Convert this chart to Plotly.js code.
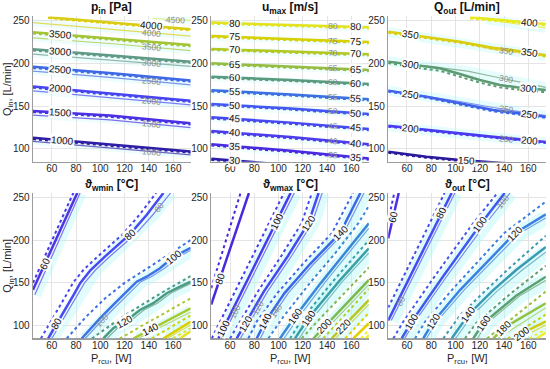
<!DOCTYPE html>
<html><head><meta charset="utf-8">
<script src="https://cdn.plot.ly/plotly-3.0.1.min.js"></script>
<style>html,body{margin:0;padding:0;background:#fff}#chart{width:550px;height:369px}</style>
</head><body><div id="chart"></div>
<script>
// ---------- Panel 1: p_in [Pa] ----------
const pinLevels = [1000, 1500, 2000, 2500, 3000, 3500, 4000];
const pinSolidX = [[44.5, 80, 110, 140, 174.5], [44.5, 108, 174.5], [44.5, 110, 174.5], [44.5, 110, 174.5], [44.5, 110, 174.5], [44.5, 110, 174.5], [57, 110, 174.5]];
const pinSolidY = [[113, 108.5, 105, 101, 97], [144.5, 139, 130], [173, 165, 156.5], [196, 188.5, 180], [216.6, 209.5, 202], [236.4, 229, 221.6], [254, 248, 240]];
const pinDotX = [[44.5, 80, 110, 140, 174.5], [44.5, 108, 174.5], [44.5, 110, 174.5], [44.5, 110, 174.5], [44.5, 110, 174.5], [44.5, 110, 174.5], [57, 110, 174.5]];
const pinDotY = [[111.5, 107, 103.5, 99.5, 95.5], [143, 137.5, 128.5], [171.5, 163.5, 155], [194.5, 187, 178.5], [215, 208, 200.5], [235, 227.5, 220], [253, 246.5, 238.5]];
const pinThinLevels = [1000, 1500, 2000, 2500, 3000, 3500, 4000, 4500];
const pinThinX = [[44.5, 80, 110, 140, 174.5], [44.5, 108, 174.5], [44.5, 110, 174.5], [44.5, 110, 174.5], [44.5, 110, 174.5], [44.5, 110, 174.5], [44.5, 110, 174.5], [143, 174.5]];
const pinThinY = [[109, 104.5, 101, 97, 93], [139.5, 134, 125], [168, 160, 151.5], [191, 183.5, 175], [211, 204, 196.5], [230, 223, 215], [247.7, 240, 232], [252.5, 250.5]];
const pinLabels = [[1000, 69], [1500, 67], [2000, 67], [2500, 67], [3000, 67], [3500, 67], [4000, 142]];
const pinGrayLabels = [[1000, 142], [1500, 142], [2000, 142], [2500, 142], [3000, 142], [3500, 142], [4000, 142], [4500, 161.6]];

// ---------- Panel 2: u_max [m/s] ----------
const umaxLevels = [30, 35, 40, 45, 50, 55, 60, 65, 70, 75, 80];
const umaxSolidX = [[44.5, 80, 120], [44.5, 110, 174.5], [44.5, 110, 174.5], [44.5, 110, 174.5], [44.5, 110, 174.5], [44.5, 110, 174.5], [44.5, 110, 174.5], [44.5, 110, 174.5], [44.5, 110, 174.5], [44.5, 110, 174.5], [44.5, 110, 174.5]];
const umaxSolidY = [[88.5, 84.5, 80], [105.5, 98, 89], [121, 114, 105.5], [137, 130.8, 123.4], [152.6, 147.3, 141], [168.6, 163.8, 158], [184.5, 180.7, 176], [200.2, 196.6, 192.4], [217, 214, 210.7], [232, 228.8, 225], [247.7, 245.3, 242.3]];
const umaxDotX = umaxSolidX;
const umaxDotY = [[87, 83, 78.5], [104, 96.5, 87.5], [119.5, 112.5, 104], [135.5, 129.3, 122], [151.2, 146, 139.6], [167.2, 162.4, 156.6], [183.2, 179.4, 174.6], [198.9, 195.3, 191], [215.7, 212.7, 209.3], [230.7, 227.5, 223.6], [246.4, 244, 240.9]];
const umaxThinLevels = [];
const umaxThinX = [];
const umaxThinY = [];
const umaxLabels = [[30, 64.1], [35, 64.1], [40, 64.1], [45, 64.1], [50, 64.1], [55, 64.1], [60, 64.1], [65, 64.1], [70, 64.1], [75, 64.1], [80, 64.1],
  [35, 164], [40, 164], [45, 164], [50, 164], [55, 164], [60, 164], [65, 164], [70, 164], [75, 164], [80, 164]];
const umaxGrayLabels = [[35, 144.5], [40, 144.5], [45, 144.5], [50, 144.5], [55, 144.5], [60, 144.5], [65, 144.5], [70, 144.5], [75, 144.5], [80, 144.5]];

// ---------- Panel 3: Q_out [L/min] ----------
const qoutLevels = [150, 200, 250, 300, 350, 400];
const qoutSolidX = [[44.5, 76.1, 103.6, 131, 145], [44.5, 76.1, 103.6, 131, 174.5], [44.5, 76.1, 103.6, 131, 142, 158.4, 174.5], [44.5, 65.1, 87.1, 103.6, 120.1, 136.6, 150.4, 174.5], [44.5, 76.1, 103.6, 131, 150.4, 174.5], [112, 140, 174.5]];
const qoutSolidY = [[96.8, 90.9, 87.1, 84.4, 83], [127.2, 122.2, 118.3, 114.4, 108.3], [168.2, 161.1, 153.4, 145.6, 143.6, 140.9, 137.6], [202.1, 197.9, 194.3, 187.7, 180.7, 174.8, 172.1, 169], [237.2, 230.6, 225.5, 218.4, 214.9, 209.6], [254, 250.5, 246]];
const qoutDotX = qoutSolidX;
const qoutDotY = [[95.5, 89.7, 86, 83.3, 82], [126, 121, 117, 113.2, 107], [167, 160, 152, 144, 142, 139.5, 136.5], [200.5, 195.5, 191.5, 184.5, 177.5, 172, 169.5, 166.5], [235.7, 229, 224, 217, 213.4, 208], [252.5, 249, 244.5]];
const qoutThinLevels = [200, 250, 300, 350, 400];
const qoutThinX = [[44.5, 103.6, 131, 150, 174.5], [44.5, 103.6, 131, 150, 174.5], [44.5, 87.1, 110, 130, 150, 174.5], [44.5, 103.6, 131, 150, 174.5], [125, 174.5]];
const qoutThinY = [[126.5, 117.5, 113.2, 110.5, 107.5], [168.5, 155.5, 148.5, 144.5, 139], [202.5, 195.5, 191, 185, 179.5, 172], [236.5, 224.5, 216.5, 213, 208.5], [251.5, 241.5]];
const qoutLabels = [[150, 109.2], [200, 62.5], [200, 161], [250, 62.5], [250, 161], [300, 62.5], [300, 160], [350, 62.5], [350, 161], [400, 161.4]];
const qoutGrayLabels = [[200, 142], [250, 142], [300, 142], [350, 142]];

// ---------- Panel 4: theta_wmin [°C] ----------
const wminLevels = [60, 80, 100, 120, 140, 160, 180];
const wminSolidX = [[44.5, 81], [57, 64, 72, 78, 83.5, 92, 104, 124.5, 138, 152], [84.6, 99.7, 112.1, 121.7, 130, 138.2, 149.2, 160, 174.5], [102.5, 110.7, 120.3, 132.7, 143.7, 154.7, 165.7, 174.5], [127.2, 141, 174.5], [151.9, 174.5], [165.7, 174.5]];
const wminSolidY = [[142, 255], [85, 102, 120, 136, 150, 165, 181, 207, 229, 255], [85, 108.6, 126.2, 139.7, 151.4, 157.2, 167, 180, 191], [85, 97, 104.7, 118.3, 126.2, 137.9, 145.6, 151.4], [85, 95.3, 120.3], [85, 104.7], [85, 93.5]];
const wminDotX = [[44.5, 77.7], [51, 58, 66, 72, 77.5, 86, 98, 118.5, 132, 146], [72.3, 88, 104, 120, 140, 160, 174.5], [93, 120, 150, 174.5], [116, 174.5], [142.4, 174.5], [160, 174.5]];
const wminDotY = [[150, 255], [85, 102, 120, 136, 150, 165, 181, 207, 229, 255], [85, 110, 132, 150, 168, 186, 200], [85, 112, 138, 158], [85, 132], [85, 112], [85, 97]];
const wminThinLevels = [60, 80, 100, 120, 140, 160];
const wminThinX = [[46, 83.3], [60, 67, 75, 81.5, 87, 96, 108, 129, 143, 158], [87.5, 103, 115.5, 125, 133.5, 142, 153, 164, 174.5], [105.5, 114, 124, 136, 147, 158, 169, 174.5], [131, 174.5], [155, 174.5]];
const wminThinY = [[136, 255], [85, 102, 120, 136, 150, 165, 181, 207, 229, 255], [85, 108.6, 126.2, 139.7, 151.4, 157.2, 167, 180, 188], [85, 97, 104.7, 118.3, 126.2, 137.9, 145.6, 149], [85, 116], [85, 101]];
const wminLabels = [[60, 54.4], [80, 64], [80, 124.5], [100, 160], [120, 120.3], [140, 141]];
const wminGrayLabels = [[80, 148.6], [100, 101]];

// ---------- Panel 5: theta_wmax [°C] ----------
const wmaxLevels = [80, 100, 120, 140, 160, 180, 200, 220, 240, 260];
const wmaxSolidX = [[44.5, 75.6], [50.4, 110], [65.5, 88, 108, 124.6, 133], [82, 89, 105, 126, 150.7, 167.5], [101.2, 113.6, 135, 155, 174.5], [113.6, 124.6, 150, 174.5], [128.7, 138.3, 174.5], [143.8, 153.4, 174.5], [161.7, 174.5], [172, 174.5]];
const wmaxSolidY = [[124.5, 255], [85, 255], [85, 140, 182, 219.6, 255], [85, 104.7, 138, 172, 208, 255], [85, 110.5, 150, 185, 219.6], [85, 108.6, 152, 190.4], [85, 99.6, 153.4], [85, 99, 130], [85, 102.8], [85, 89]];
const wmaxDotX = [[44.5, 68.7], [44.9, 104.5], [60, 83, 102.5, 119, 127.5], [75.1, 82, 99, 120, 144, 161.5], [91.6, 104, 126, 147, 166, 174.5], [109.5, 120, 145, 174.5], [119.1, 130, 174.5], [136.9, 174.5], [155, 174.5], [168, 174.5]];
const wmaxDotY = [[143.7, 255], [85, 255], [85, 140, 182, 219.6, 255], [85, 104.7, 138, 172, 208, 255], [85, 110.5, 150, 185, 220, 240], [85, 108.6, 152, 200], [85, 102, 168], [85, 143], [85, 115], [85, 95]];
const wmaxThinLevels = [100, 120, 140, 160, 180, 200, 220];
const wmaxThinX = [[53, 113], [68.5, 91, 111, 127.6, 136], [85, 92, 108, 129, 153.7, 170.5], [104.5, 117, 138, 158, 174.5], [117, 128, 153, 174.5], [132, 142, 174.5], [147, 157, 174.5]];
const wmaxThinY = [[85, 255], [85, 140, 182, 219.6, 255], [85, 104.7, 138, 172, 208, 255], [85, 110.5, 150, 185, 214], [85, 108.6, 152, 185], [85, 99.6, 148], [85, 99, 125]];
const wmaxLabels = [[80, 51.8], [100, 54.5], [100, 98.5], [120, 72.4], [120, 124.6], [140, 89], [140, 150.7], [160, 113.6], [180, 124.6], [200, 138.3], [220, 153.4]];
const wmaxGrayLabels = [[100, 64], [120, 83], [140, 98]];

// ---------- Panel 6: theta_out [°C] ----------
const outLevels = [60, 80, 100, 120, 140, 160, 180, 200, 220];
const outSolidX = [[44.5, 53.2], [44.5, 96.8], [55.6, 63.9, 90, 120.2, 140.5], [73.4, 81.7, 103.7, 149, 174.5], [96.8, 110.5, 130, 150, 174.5], [114.6, 122.9, 150, 174.5], [131.2, 139.4, 174.5], [149, 154.6, 174.5], [166.9, 174.5]];
const outSolidY = [[202, 255], [106, 255], [85, 104.7, 158, 217.6, 255], [85, 104.7, 141.6, 208, 230], [85, 112.5, 140, 165, 192], [85, 102.8, 135, 157.2], [85, 97, 126.2], [85, 91, 105], [85, 92]];
const outDotX = [[44.5, 49.5], [44.5, 91], [48.7, 57, 83, 113.5, 134.5], [66.6, 75, 97, 140, 174.5], [89.9, 104, 124, 145, 174.5], [107.8, 117, 145, 174.5], [126, 174.5], [143, 174.5], [161, 174.5]];
const outDotY = [[222, 255], [121, 255], [85, 104.7, 158, 217.6, 255], [85, 104.7, 141.6, 208, 245], [85, 112.5, 140, 168, 205], [85, 102.8, 137, 170], [85, 140], [85, 113], [85, 96]];
const outThinLevels = [80, 100, 120, 140, 160, 180, 200];
const outThinX = [[47, 99.5], [58, 66.5, 93, 124, 145], [76, 84.5, 107, 153, 174.5], [100, 114, 134, 155, 174.5], [118, 126, 153, 174.5], [135, 174.5], [153, 174.5]];
const outThinY = [[106, 255], [85, 104.7, 158, 217.6, 255], [85, 104.7, 141.6, 208, 226], [85, 112.5, 140, 165, 186], [85, 102.8, 135, 153], [85, 121], [85, 101]];
const outLabels = [[60, 48.7], [80, 88.6], [100, 63.9], [100, 120.2], [120, 81.7], [120, 149], [140, 110.5], [160, 122.9], [180, 139.4], [200, 154.6]];
const outGrayLabels = [[80, 55], [100, 139]];

// ---------- axis ticks / titles ----------
const xTicks = [60, 80, 100, 120, 140, 160];
const yTicks = [100, 150, 200, 250];
const panelTitles = ['<b>p<sub>in</sub> [Pa]</b>', '<b>u<sub>max</sub> [m/s]</b>', '<b>Q<sub>out</sub> [L/min]</b>',
  '<b>\u03D1<sub>wmin</sub> [°C]</b>', '<b>\u03D1<sub>wmax</sub> [°C]</b>', '<b>\u03D1<sub>out</sub> [°C]</b>'];
const yTitle = 'Q<sub>in</sub>, [L/min]';
const xTitle = 'P<sub>rcu</sub>, [W]';

// ---------- styles ----------
const pinColors = {1000: '#2e1fa6', 1500: '#4b2fe4', 2000: '#4744f0', 2500: '#3f68e6', 3000: '#5f9a86', 3500: '#a2c435', 4000: '#d8cc14', 4500: '#e2e23a'};
const umaxColors = {30: '#2c1ca8', 35: '#4a2ae0', 40: '#4c3cec', 45: '#4848f0', 50: '#4258f0', 55: '#3c70e2', 60: '#5a9a7e', 65: '#96bc40', 70: '#b4c824', 75: '#d8d000', 80: '#e4e21c'};
const qoutColors = {150: '#2a1a9a', 200: '#4a3aef', 250: '#4062e8', 300: '#5c9a72', 350: '#dacc10', 400: '#e8e820'};
const wminColors = {60: '#5232e6', 80: '#4a48f0', 100: '#3c72e6', 120: '#4c9a82', 140: '#a8c830', 160: '#d8d000', 180: '#e8e020'};
const wmaxColors = {80: '#4a28e0', 100: '#4a38ec', 120: '#4848f0', 140: '#3c68e8', 160: '#3a86d8', 180: '#3aa0a8', 200: '#80b850', 220: '#b8c828', 240: '#e0d000', 260: '#f0f020'};
const outColors = {60: '#4a30e8', 80: '#4848f0', 100: '#4058ec', 120: '#3a80e0', 140: '#3a9ab4', 160: '#5aa070', 180: '#98c040', 200: '#d0cc10', 220: '#eeee30'};

const FONT = '"Liberation Sans", Arial, Helvetica, sans-serif';
const W = 550, H = 369;
const XR = [44.5, 174.5], YR = [85, 255];
const xDomains = [[0.06, 0.3467], [0.384, 0.6707], [0.7058, 0.9925]];
const yDomains = [[0.5615, 0.9556], [0.0827, 0.477]];

const panels = [
  {col: pinColors, lv: pinLevels, sx: pinSolidX, sy: pinSolidY, dx: pinDotX, dy: pinDotY, tl: pinThinLevels, tx: pinThinX, ty: pinThinY, lab: pinLabels, glab: pinGrayLabels, halo: 7, ha: 0.22},
  {col: umaxColors, lv: umaxLevels, sx: umaxSolidX, sy: umaxSolidY, dx: umaxDotX, dy: umaxDotY, tl: umaxThinLevels, tx: umaxThinX, ty: umaxThinY, lab: umaxLabels, glab: umaxGrayLabels, halo: 7, ha: 0.18},
  {col: qoutColors, lv: qoutLevels, sx: qoutSolidX, sy: qoutSolidY, dx: qoutDotX, dy: qoutDotY, tl: qoutThinLevels, tx: qoutThinX, ty: qoutThinY, lab: qoutLabels, glab: qoutGrayLabels, halo: 10, ha: 0.3},
  {col: wminColors, lv: wminLevels, sx: wminSolidX, sy: wminSolidY, dx: wminDotX, dy: wminDotY, tl: wminThinLevels, tx: wminThinX, ty: wminThinY, lab: wminLabels, glab: wminGrayLabels, halo: 13, ha: 0.38},
  {col: wmaxColors, lv: wmaxLevels, sx: wmaxSolidX, sy: wmaxSolidY, dx: wmaxDotX, dy: wmaxDotY, tl: wmaxThinLevels, tx: wmaxThinX, ty: wmaxThinY, lab: wmaxLabels, glab: wmaxGrayLabels, halo: 15, ha: 0.4},
  {col: outColors, lv: outLevels, sx: outSolidX, sy: outSolidY, dx: outDotX, dy: outDotY, tl: outThinLevels, tx: outThinX, ty: outThinY, lab: outLabels, glab: outGrayLabels, halo: 15, ha: 0.4}
];

function lighten(hex, t) {
  const n = parseInt(hex.slice(1), 16);
  const r = (n >> 16) & 255, g = (n >> 8) & 255, b = n & 255;
  const f = c => Math.round(c + (255 - c) * t);
  return 'rgb(' + f(r) + ',' + f(g) + ',' + f(b) + ')';
}
function interp(xs, ys, x) {
  for (let i = 0; i < xs.length - 1; i++) {
    if (x >= xs[i] && x <= xs[i + 1]) {
      const t = (x - xs[i]) / (xs[i + 1] - xs[i]);
      return {y: ys[i] + t * (ys[i + 1] - ys[i]), s: (ys[i + 1] - ys[i]) / (xs[i + 1] - xs[i])};
    }
  }
  const i = x < xs[0] ? 0 : xs.length - 2;
  const s = (ys[i + 1] - ys[i]) / (xs[i + 1] - xs[i]);
  return {y: ys[i] + (x - xs[i]) * s, s: s};
}

const traces = [];
const annotations = [];
const layout = {
  width: W, height: H, margin: {l: 0, r: 0, t: 0, b: 0},
  paper_bgcolor: '#ffffff', plot_bgcolor: '#ffffff', showlegend: false,
  font: {family: FONT, size: 10, color: '#262626'}
};

panels.forEach((p, k) => {
  const col = k % 3, row = Math.floor(k / 3);
  const sfx = k === 0 ? '' : String(k + 1);
  const xa = 'x' + sfx, ya = 'y' + sfx;
  const xd = xDomains[col], yd = yDomains[row];
  layout['xaxis' + sfx] = {
    domain: xd, range: XR, anchor: ya, tickvals: xTicks, ticktext: xTicks.map(String),
    showgrid: true, gridcolor: '#e4e4e4', gridwidth: 1, zeroline: false,
    showline: true, linecolor: '#9c9c9c', linewidth: 1.3, ticks: '', ticklabelstandoff: -3,
    tickfont: {family: FONT, size: 10, color: '#262626'}, fixedrange: true, layer: 'below traces'
  };
  layout['yaxis' + sfx] = {
    domain: yd, range: YR, anchor: xa, tickvals: yTicks, ticktext: yTicks.map(String),
    showgrid: true, gridcolor: '#e4e4e4', gridwidth: 1, zeroline: false,
    showline: true, linecolor: '#9c9c9c', linewidth: 1.3, ticks: '',
    tickfont: {family: FONT, size: 10, color: '#262626'}, fixedrange: true, layer: 'below traces'
  };
  const pxPerX = W * (xd[1] - xd[0]) / (XR[1] - XR[0]);
  const pxPerY = H * (yd[1] - yd[0]) / (YR[1] - YR[0]);

  // faint cyan halo bands around the secondary contours (as in the original rendering)
  const hx = p.tl.length ? p.tx : p.dx, hy = p.tl.length ? p.ty : p.dy;
  hx.forEach((xs, i) => {
    traces.push({type: 'scatter', mode: 'lines', xaxis: xa, yaxis: ya, x: xs, y: hy[i],
      line: {color: 'rgba(175,248,248,' + p.ha + ')', width: p.halo}, hoverinfo: 'skip'});
  });
  // thin lines (second data set)
  p.tl.forEach((lev, i) => {
    traces.push({type: 'scatter', mode: 'lines', xaxis: xa, yaxis: ya, x: p.tx[i], y: p.ty[i],
      line: {color: lighten(p.col[lev], 0.3), width: 1.2}, hoverinfo: 'skip'});
  });
  // dotted lines (third data set)
  p.lv.forEach((lev, i) => {
    traces.push({type: 'scatter', mode: 'lines', xaxis: xa, yaxis: ya, x: p.dx[i], y: p.dy[i],
      line: {color: p.col[lev], width: 2, dash: 'dot'}, hoverinfo: 'skip'});
  });
  // solid lines (main data set)
  p.lv.forEach((lev, i) => {
    traces.push({type: 'scatter', mode: 'lines', xaxis: xa, yaxis: ya, x: p.sx[i], y: p.sy[i],
      line: {color: p.col[lev], width: 2.5}, hoverinfo: 'skip'});
  });
  // contour labels
  p.lab.forEach(([lev, x]) => {
    const i = p.lv.indexOf(lev);
    const r = interp(p.sx[i], p.sy[i], x);
    const ang = -Math.atan(r.s * pxPerY / pxPerX) * 180 / Math.PI;
    annotations.push({xref: xa, yref: ya, x: x, y: r.y, text: String(lev), showarrow: false,
      textangle: ang, bgcolor: 'rgba(255,255,255,0.92)', borderpad: 0, font: {family: FONT, size: 10, color: '#111111'}});
  });
  p.glab.forEach(([lev, x]) => {
    let xs, ys;
    const j = p.tl.indexOf(lev);
    if (j >= 0) { xs = p.tx[j]; ys = p.ty[j]; } else { const i = p.lv.indexOf(lev); xs = p.sx[i]; ys = p.sy[i]; }
    const r = interp(xs, ys, x);
    const ang = -Math.atan(r.s * pxPerY / pxPerX) * 180 / Math.PI;
    annotations.push({xref: xa, yref: ya, x: x, y: r.y, text: String(lev), showarrow: false,
      textangle: ang, font: {family: FONT, size: 8.5, color: '#8a8a8a'}});
  });
  // panel title
  annotations.push({xref: 'paper', yref: 'paper', x: (xd[0] + xd[1]) / 2, y: row === 0 ? 1 - 8 / H : 1 - 185 / H,
    text: panelTitles[k], showarrow: false, font: {family: FONT, size: 12, color: '#111111'}, xanchor: 'center', yanchor: 'middle'});
  if (col === 0) {
    annotations.push({xref: 'paper', yref: 'paper', x: 8 / W, y: (yd[0] + yd[1]) / 2, text: yTitle, textangle: -90,
      showarrow: false, font: {family: FONT, size: 11, color: '#262626'}, xanchor: 'center', yanchor: 'middle'});
  }
  if (row === 1) {
    annotations.push({xref: 'paper', yref: 'paper', x: (xd[0] + xd[1]) / 2, y: 1 - 359 / H, text: xTitle,
      showarrow: false, font: {family: FONT, size: 11, color: '#262626'}, xanchor: 'center', yanchor: 'middle'});
  }
});
layout.annotations = annotations;

Plotly.newPlot('chart', traces, layout, {staticPlot: true, displayModeBar: false});
</script>
</body></html>
